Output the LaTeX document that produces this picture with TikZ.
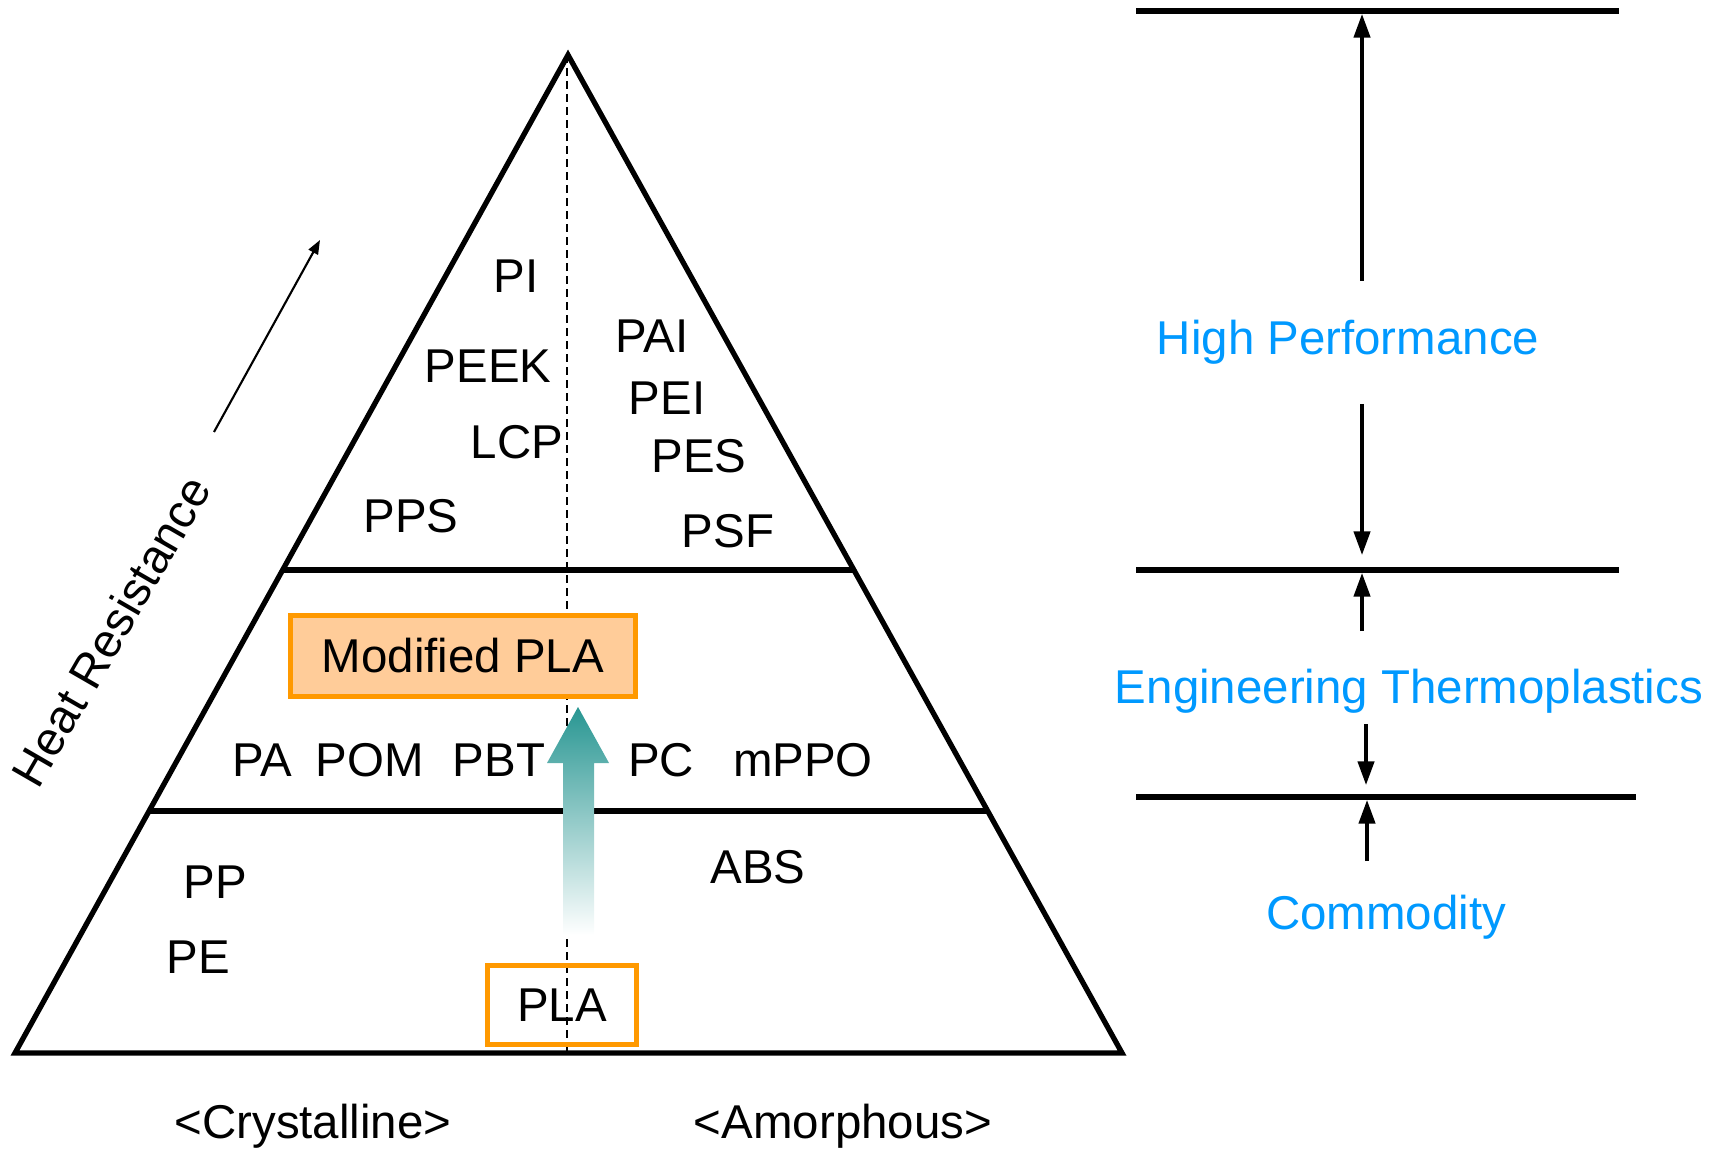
\documentclass[tikz,border=0pt]{standalone}
\usepackage{fontspec}
\setmainfont{Liberation Sans}
\usetikzlibrary{arrows.meta,calc}
\definecolor{plaorange}{RGB}{255,153,0}
\definecolor{plafill}{RGB}{255,204,153}
\definecolor{classblue}{RGB}{0,153,255}
\definecolor{tealup}{RGB}{40,150,146}
\begin{document}
\begin{tikzpicture}
  [x=0.1mm,y=-0.1mm,
   every node/.style={font=\fontsize{13.5pt}{16pt}\selectfont, inner sep=0pt},
   lbl/.style={anchor=base},
   cls/.style={anchor=base, text=classblue},
   rim/.style={line width=1.5pt},
   bar/.style={line width=1.7pt},
   dim/.style={line width=1pt, -{Triangle[length=6.7pt,width=4.6pt]}},
   plabox/.style={draw=plaorange, line width=1.4pt}]
  \useasboundingbox (0,0) rectangle (1723,1149);

  % pyramid
  \coordinate (top) at (568,55);
  \coordinate (bl) at (15,1053);
  \coordinate (br) at (1122,1053);
  \draw[rim] (top) -- (bl) -- (br) -- cycle;
  \draw[rim] ($(bl)!0.484!(top)$) -- ($(br)!0.484!(top)$);
  \draw[rim] ($(bl)!0.2425!(top)$) -- ($(br)!0.2425!(top)$);
  \draw[line width=0.6pt, dash pattern=on 2.3pt off 1.4pt] (567,55) -- (567,1053);

  % upgrade arrow
  \shade[top color=tealup, bottom color=white]
    (578,707) -- (609,763) -- (594,763) -- (594,935) -- (563,935) -- (563,763) -- (547,763) -- cycle;

  % boxes
  \node[plabox, fill=plafill, minimum width=3.45cm, minimum height=0.81cm] (mpla) at (463,656) {Modified PLA};
  \node[plabox, minimum width=1.49cm, minimum height=0.79cm] (pla) at (562,1005) {PLA};

  % polymers
  \foreach \name/\x/\y/\txt in {pi/516/293/PI, peek/488/383/PEEK, lcp/517/459/LCP, pps/411/533/PPS,
      pai/652/353/PAI, pei/667/415/PEI, pes/699/473/PES, psf/728/548/PSF,
      pa/262/776/PA, pom/370/776/POM, pbt/499/776/PBT, pc/661/776/PC, mppo/803/776/mPPO,
      pp/215/898/PP, pe/198/973/PE, abs/758/883/ABS}
    \node[lbl] (\name) at (\x,\y) {\txt};
  \node[lbl] (cryst) at (313,1138) {<Crystalline>};
  \node[lbl] (amorph) at (843,1138) {<Amorphous>};

  % heat resistance
  \node[rotate=60] (heat) at (111,631) {Heat Resistance};
  \coordinate (h0) at (214,432);
  \coordinate (h1) at (320,240);
  \draw[line width=0.6pt, -{Triangle[length=4pt,width=3pt]}] (h0) -- (h1);

  % classes
  \draw[bar] (1136,11) -- (1619,11);
  \draw[bar] (1136,570) -- (1619,570);
  \draw[bar] (1136,797) -- (1636,797);
  \node[cls] (hp) at (1348,355) {High Performance};
  \node[cls] (eng) at (1409,703) {Engineering Thermoplastics};
  \node[cls] (com) at (1386,929) {Commodity};
  \coordinate (a1) at (1362,281);
  \coordinate (b1) at (1362,14);
  \coordinate (a2) at (1362,404);
  \coordinate (b2) at (1362,555);
  \coordinate (a3) at (1362,631);
  \coordinate (b3) at (1362,573);
  \coordinate (a4) at (1366,724);
  \coordinate (b4) at (1366,785);
  \coordinate (a5) at (1367,861);
  \coordinate (b5) at (1367,800);
  \foreach \from/\to in {a1/b1,a2/b2,a3/b3,a4/b4,a5/b5}
    \draw[dim] (\from) -- (\to);
\end{tikzpicture}
\end{document}
